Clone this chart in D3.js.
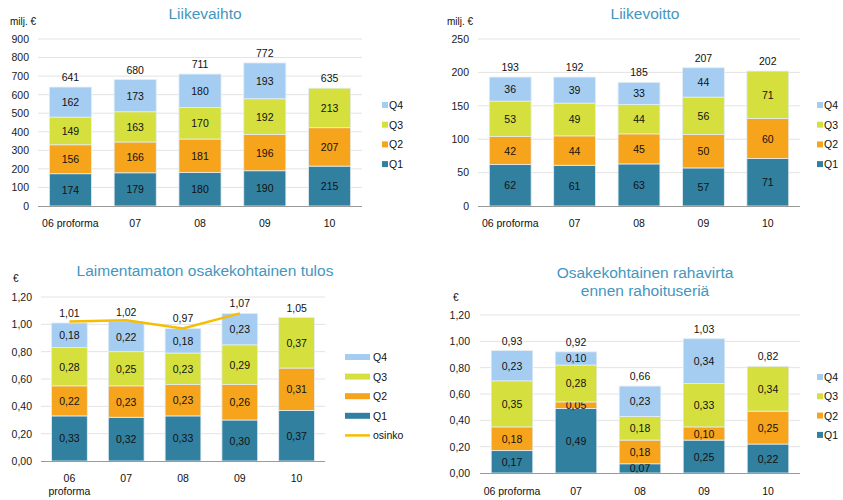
<!DOCTYPE html>
<html><head><meta charset="utf-8">
<script src="https://cdn.jsdelivr.net/npm/d3@7"></script>
<style>
html,body{margin:0;padding:0;background:#fff;}
svg{display:block;font-family:"Liberation Sans",Arial,sans-serif;}
</style></head>
<body>
<svg id="c" width="843" height="500"></svg>
<script>
// ---------- DATA ----------
const categories = ["06 proforma", "07", "08", "09", "10"];
const quarterNames = ["Q1", "Q2", "Q3", "Q4"];

// Liikevaihto (milj. €)
const salesQ1 = [174, 179, 180, 190, 215];
const salesQ2 = [156, 166, 181, 196, 207];
const salesQ3 = [149, 163, 170, 192, 213];
const salesQ4 = [162, 173, 180, 193, null];
const salesTotal = [641, 680, 711, 772, 635];
const salesTicks = [0, 100, 200, 300, 400, 500, 600, 700, 800, 900];

// Liikevoitto (milj. €)
const ebitQ1 = [62, 61, 63, 57, 71];
const ebitQ2 = [42, 44, 45, 50, 60];
const ebitQ3 = [53, 49, 44, 56, 71];
const ebitQ4 = [36, 39, 33, 44, null];
const ebitTotal = [193, 192, 185, 207, 202];
const ebitTicks = [0, 50, 100, 150, 200, 250];

// Laimentamaton osakekohtainen tulos (€)
const epsQ1 = [0.33, 0.32, 0.33, 0.30, 0.37];
const epsQ2 = [0.22, 0.23, 0.23, 0.26, 0.31];
const epsQ3 = [0.28, 0.25, 0.23, 0.29, 0.37];
const epsQ4 = [0.18, 0.22, 0.18, 0.23, null];
const epsTotal = [1.01, 1.02, 0.97, 1.07, 1.05];
const osinko = [1.02, 1.03, 0.97, 1.08];
const euroTicks = [0, 0.2, 0.4, 0.6, 0.8, 1.0, 1.2];

// Osakekohtainen rahavirta ennen rahoituseriä (€)
const cfQ1 = [0.17, 0.49, 0.07, 0.25, 0.22];
const cfQ2 = [0.18, 0.05, 0.18, 0.10, 0.25];
const cfQ3 = [0.35, 0.28, 0.18, 0.33, 0.34];
const cfQ4 = [0.23, 0.10, 0.23, 0.34, null];
const cfTotal = [0.93, 0.92, 0.66, 1.03, 0.82];

// ---------- STYLE ----------
const colors = {Q1: "#32809f", Q2: "#f6a41c", Q3: "#d5e03f", Q4: "#a5cdf1"};
const titleColor = "#4596bf";
const fmtInt = d3.format("d");
const fmtEur = v => d3.format(".2f")(v).replace(".", ",");

const svg = d3.select("#c");

function drawChart(cfg) {
  const g = svg.append("g");
  const x = d3.scaleBand().domain(cfg.cats).range([cfg.x0, cfg.x1])
    .paddingInner(cfg.pad).paddingOuter(cfg.pad / 2);
  const y = d3.scaleLinear().domain([0, cfg.ymax]).range([cfg.yb, cfg.yt]);

  // grid
  g.selectAll(".grid").data(cfg.ticks.filter(t => t > 0)).enter().append("line")
    .attr("x1", cfg.x0).attr("x2", cfg.x1)
    .attr("y1", d => y(d)).attr("y2", d => y(d))
    .attr("stroke", "#e3e3e3").attr("stroke-width", 1);

  // y axis labels via d3 axis
  const yAxis = d3.axisLeft(y).tickValues(cfg.ticks).tickSize(0).tickPadding(0)
    .tickFormat(cfg.fmt);
  const ya = g.append("g").attr("transform", `translate(${cfg.ylx},0)`).call(yAxis);
  ya.select(".domain").remove();
  ya.selectAll("text").attr("font-size", 10.5).attr("fill", "#1a1a1a")
    .attr("font-family", "Liberation Sans, Arial, sans-serif");

  // stacked data
  const rows = cfg.cats.map((c, i) => {
    const r = {cat: c};
    quarterNames.forEach((q, k) => r[q] = cfg.series[k][i] == null ? 0 : cfg.series[k][i]);
    return r;
  });
  const stack = d3.stack().keys(quarterNames)(rows);

  stack.forEach(layer => {
    const key = layer.key;
    const k = quarterNames.indexOf(key);
    layer.forEach((d, i) => {
      const v = cfg.series[k][i];
      if (v == null) return;
      g.append("rect")
        .attr("x", x(cfg.cats[i])).attr("width", x.bandwidth())
        .attr("y", y(d[1])).attr("height", y(d[0]) - y(d[1]))
        .attr("fill", colors[key]).attr("stroke", "#e4edf4").attr("stroke-width", 0.8);
      g.append("text")
        .attr("x", x(cfg.cats[i]) + x.bandwidth() / 2)
        .attr("y", (y(d[0]) + y(d[1])) / 2 + 4)
        .attr("text-anchor", "middle").attr("font-size", 10.5).attr("fill", "#111")
        .text(cfg.fmt(v));
    });
  });

  // totals
  cfg.totals.forEach((t, i) => {
    const top = stack[3][i][1];
    g.append("text")
      .attr("x", x(cfg.cats[i]) + x.bandwidth() / 2)
      .attr("y", y(top) - 6)
      .attr("text-anchor", "middle").attr("font-size", 10.5).attr("fill", "#111")
      .text(cfg.fmt(t));
  });

  // bottom axis line
  g.append("line").attr("x1", cfg.x0).attr("x2", cfg.x1)
    .attr("y1", cfg.yb + 0.5).attr("y2", cfg.yb + 0.5)
    .attr("stroke", "#9a9a9a").attr("stroke-width", 1);

  // category labels
  cfg.cats.forEach((c, i) => {
    const cx = x(c) + x.bandwidth() / 2;
    const lines = cfg.wrap ? c.split(" ") : [c];
    lines.forEach((ln, j) => {
      g.append("text").attr("x", cx).attr("y", cfg.catY + j * 13)
        .attr("text-anchor", "middle").attr("font-size", 10.5).attr("fill", "#111")
        .text(ln);
    });
  });

  // title
  cfg.title.forEach((t, j) => {
    g.append("text").attr("x", cfg.titleX).attr("y", cfg.titleY + j * 18)
      .attr("text-anchor", "middle").attr("font-size", 15.5).attr("fill", titleColor)
      .text(t);
  });

  // unit
  g.append("text").attr("x", cfg.unitX).attr("y", cfg.unitY)
    .attr("font-size", 10).attr("fill", "#111").text(cfg.unit);

  // optional line
  if (cfg.line) {
    const ln = d3.line().x((d, i) => x(cfg.cats[i]) + x.bandwidth() / 2).y(d => y(d));
    g.append("path").datum(cfg.line).attr("d", ln)
      .attr("fill", "none").attr("stroke", "#f7bd00").attr("stroke-width", 2.5);
  }

  // legend
  const lg = cfg.legend;
  ["Q4", "Q3", "Q2", "Q1"].forEach((q, j) => {
    const cy = lg.y + j * lg.dy;
    g.append("rect").attr("x", lg.x).attr("y", cy - lg.h / 2)
      .attr("width", lg.w).attr("height", lg.h).attr("fill", colors[q]);
    g.append("text").attr("x", lg.x + lg.w + lg.gap).attr("y", cy + 4)
      .attr("font-size", 10.5).attr("fill", "#111").text(q);
  });
  if (cfg.line) {
    const cy = lg.y + 4 * lg.dy;
    g.append("line").attr("x1", lg.x).attr("x2", lg.x + lg.w)
      .attr("y1", cy).attr("y2", cy).attr("stroke", "#f7bd00").attr("stroke-width", 2.5);
    g.append("text").attr("x", lg.x + lg.w + lg.gap).attr("y", cy + 4)
      .attr("font-size", 10.5).attr("fill", "#111").text("osinko");
  }
}

drawChart({
  cats: categories, series: [salesQ1, salesQ2, salesQ3, salesQ4], totals: salesTotal,
  ticks: salesTicks, ymax: 900, fmt: fmtInt,
  x0: 38, x1: 362, yt: 39, yb: 206, pad: 0.35, ylx: 29, catY: 227,
  title: ["Liikevaihto"], titleX: 205, titleY: 19, unit: "milj. €", unitX: 10, unitY: 25,
  legend: {x: 382, y: 105, dy: 19.7, w: 6, h: 6, gap: 1}
});

drawChart({
  cats: categories, series: [ebitQ1, ebitQ2, ebitQ3, ebitQ4], totals: ebitTotal,
  ticks: ebitTicks, ymax: 250, fmt: fmtInt,
  x0: 478, x1: 800, yt: 39, yb: 206, pad: 0.35, ylx: 469, catY: 227,
  title: ["Liikevoitto"], titleX: 645, titleY: 19, unit: "milj. €", unitX: 447, unitY: 25,
  legend: {x: 817, y: 105, dy: 19.7, w: 6, h: 6, gap: 1}
});

drawChart({
  cats: categories, series: [epsQ1, epsQ2, epsQ3, epsQ4], totals: epsTotal,
  ticks: euroTicks, ymax: 1.2, fmt: fmtEur, wrap: true, line: osinko,
  x0: 41, x1: 325, yt: 297, yb: 461, pad: 0.37, ylx: 32, catY: 482,
  title: ["Laimentamaton osakekohtainen tulos"], titleX: 205, titleY: 276, unit: "€", unitX: 13, unitY: 282,
  legend: {x: 345, y: 357, dy: 19.6, w: 25, h: 6, gap: 3}
});

drawChart({
  cats: categories, series: [cfQ1, cfQ2, cfQ3, cfQ4], totals: cfTotal,
  ticks: euroTicks, ymax: 1.2, fmt: fmtEur,
  x0: 480, x1: 800, yt: 315, yb: 473, pad: 0.35, ylx: 470, catY: 495,
  title: ["Osakekohtainen rahavirta", "ennen rahoituseriä"], titleX: 645, titleY: 278, unit: "€", unitX: 453, unitY: 301,
  legend: {x: 817, y: 377, dy: 19.3, w: 6, h: 6, gap: 1}
});
</script>
</body></html>
